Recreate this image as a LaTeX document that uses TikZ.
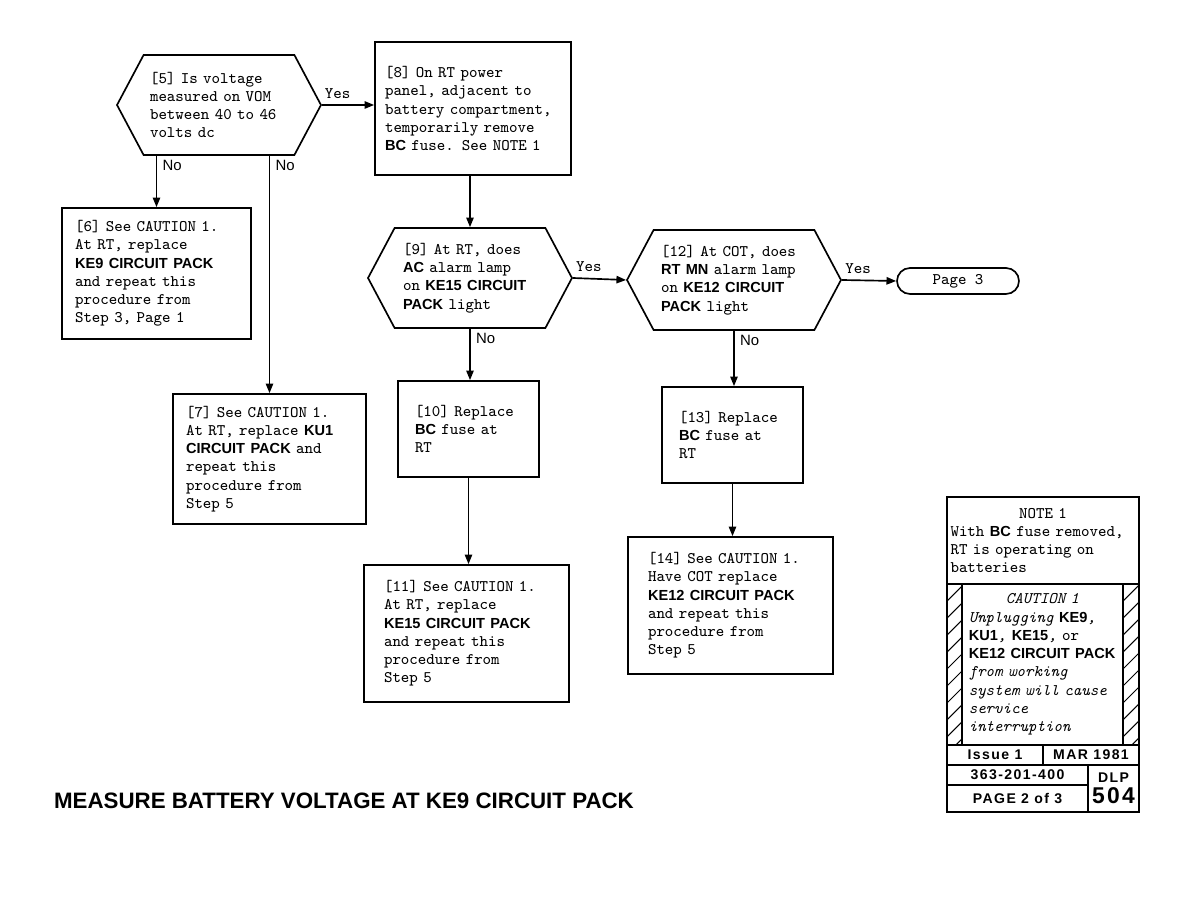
\documentclass[tikz,border=0pt]{standalone}
\usepackage{fontspec}
\newfontfamily\hv{Liberation Sans}
\newfontfamily\hvw{Liberation Sans}[LetterSpace=10]
\usetikzlibrary{arrows.meta,shapes.symbols,positioning}
\newcommand\bsf[1]{{\hv\upshape\bfseries\fontsize{8.3}{10.4}\selectfont #1}}

\begin{document}
\begin{tikzpicture}[x=0.02cm,y=-0.02cm,line width=0.95pt,
    font=\ttfamily\fontsize{9.2}{10.4}\selectfont,
    >={Triangle[length=5.5pt,width=4.2pt]},
    stepbox/.style={draw, align=left, inner sep=0pt},
    query/.style={draw, shape=signal, signal to=west and east, signal pointer angle=124, align=left, inner sep=0pt},
    nolbl/.style={anchor=north west, inner xsep=3pt, inner ysep=2pt, font=\hv\fontsize{8.5}{10}\selectfont},
    cell/.style={draw, inner sep=0pt, font=\hvw\bfseries\fontsize{8}{10}\selectfont},
    hatch/.style={draw, inner sep=0pt, path picture={
        \foreach \k in {1,...,10}
          \draw[line width=0.6pt] ([yshift=-\k*0.34cm]path picture bounding box.north west) -- ++(0.32cm,0.32cm);}}]
  \fill[white] (0,0) rectangle (1188,918);
  \useasboundingbox (0,0) rectangle (1188,918);
  % ---------- questions ----------
  \node[query, minimum width=4.08cm, minimum height=2cm, text width=2.76cm] (q5) at (219,105)
    {[5] Is voltage\\measured on VOM\\between 40 to 46\\volts dc};
  \node[query, minimum width=4.08cm, minimum height=2cm, text width=2.68cm] (q9) at (470,278)
    {[9] At RT, does\\\bsf{AC} alarm lamp\\on \bsf{KE15 CIRCUIT}\\\bsf{PACK} light};
  \node[query, minimum width=4.28cm, minimum height=2cm, text width=2.92cm] (q12) at (734,280)
    {[12] At COT, does\\\bsf{RT MN} alarm lamp\\on \bsf{KE12 CIRCUIT}\\\bsf{PACK} light};
  % ---------- steps ----------
  \node[stepbox, minimum width=3.92cm, minimum height=2.66cm, text width=3.52cm] (b8) at (473,108.5)
    {[8] On RT power\\panel, adjacent to\\battery compartment,\\temporarily remove\\\bsf{BC} fuse. See NOTE 1};
  \node[stepbox, minimum width=3.78cm, minimum height=2.62cm, text width=3.26cm] (b6) at (156.5,273.5)
    {[6] See CAUTION 1.\\At RT, replace\\\bsf{KE9 CIRCUIT PACK}\\and repeat this\\procedure from\\Step 3, Page 1};
  \node[stepbox, minimum width=3.86cm, minimum height=2.6cm, text width=3.34cm] (b7) at (269.5,459)
    {[7] See CAUTION 1.\\At RT, replace \bsf{KU1}\\\bsf{CIRCUIT PACK} and\\repeat this\\procedure from\\Step 5};
  \node[stepbox, minimum width=2.82cm, minimum height=1.92cm, text width=2.14cm] (b10) at (468.5,429)
    {[10] Replace\\\bsf{BC} fuse at\\RT};
  \node[stepbox, minimum width=2.82cm, minimum height=1.92cm, text width=2.14cm] (b13) at (732.5,435)
    {[13] Replace\\\bsf{BC} fuse at\\RT};
  \node[stepbox, minimum width=4.1cm, minimum height=2.74cm, text width=3.3cm] (b11) at (466.5,633.5)
    {[11] See CAUTION 1.\\At RT, replace\\\bsf{KE15 CIRCUIT PACK}\\and repeat this\\procedure from\\Step 5};
  \node[stepbox, minimum width=4.1cm, minimum height=2.74cm, text width=3.3cm] (b14) at (730.5,605.5)
    {[14] See CAUTION 1.\\Have COT replace\\\bsf{KE12 CIRCUIT PACK}\\and repeat this\\procedure from\\Step 5};
  \node[draw, rounded corners=0.26cm, minimum width=2.44cm, minimum height=0.52cm, inner sep=0pt] (p3) at (958,281) {Page 3};
  % ---------- connectors ----------
  \draw[->] (q5.east) -- node[above, pos=0.3]{Yes} (q5.east -| b8.west);
  \draw[->] (q5.south -| b6.north) -- node[nolbl, pos=0]{No} (b6.north);
  \draw[->] (q5.south -| b7.north) -- node[nolbl, pos=0]{No} (b7.north);
  \draw[->] (b8.south -| q9.north) -- (q9.north);
  \draw[->] (q9.east) -- node[above, pos=0.3]{Yes} (q12.west);
  \draw[->] (q12.east) -- node[above, pos=0.3]{Yes} (p3.west);
  \draw[->] (q9.south) -- node[nolbl, pos=0]{No} (q9.south |- b10.north);
  \draw[->] (b10.south) -- (b10.south |- b11.north);
  \draw[->] (q12.south) -- node[nolbl, pos=0]{No} (q12.south |- b13.north);
  \draw[->] (b13.south) -- (b13.south |- b14.north);
  % ---------- title ----------
  \node[font=\hv\bfseries\fontsize{12.7}{14}\selectfont] (title) at (344,801) {MEASURE BATTERY VOLTAGE AT KE9 CIRCUIT PACK};
  % ---------- note panel ----------
  \node[draw, minimum width=3.84cm, minimum height=1.74cm, text width=3.7cm, align=left, inner sep=0pt] (note) at (1043,540.5)
    {\hfill NOTE 1\hfill\null\\With \bsf{BC} fuse removed,\\RT is operating on\\batteries};
  \node[draw, minimum width=3.84cm, minimum height=3.22cm, inner sep=0pt] (caution) at (1043,664.5) {};
  \node[hatch, minimum width=0.3cm, minimum height=3.22cm] (hl) at (954.5,664.5) {};
  \node[hatch, minimum width=0.32cm, minimum height=3.22cm] (hr) at (1131,664.5) {};
  \node[text width=2.95cm, align=left, inner sep=0pt, font=\ttfamily\itshape\fontsize{9.2}{10.4}\selectfont] (ctext) at (1042.5,664.5)
    {\hfill CAUTION 1\hfill\null\\Unplugging \bsf{KE9},\\\bsf{KU1}, \bsf{KE15}, {\upshape or}\\\bsf{KE12 CIRCUIT PACK}\\from working\\system will cause\\service\\interruption};
  \node[cell, minimum width=1.92cm, minimum height=0.4cm] (iss) at (995,755) {Issue 1};
  \node[cell, minimum width=1.92cm, minimum height=0.4cm] (date) at (1091,755) {MAR 1981};
  \node[cell, minimum width=2.82cm, minimum height=0.4cm] (dno) at (1017.5,775) {363-201-400};
  \node[cell, minimum width=2.82cm, minimum height=0.54cm] (pg) at (1017.5,798.5) {PAGE 2 of 3};
  \node[cell, minimum width=1.02cm, minimum height=0.94cm, align=center] (dlp) at (1113.5,788.5)
    {DLP\\[2pt]\fontsize{13}{15}\selectfont 504};
\end{tikzpicture}
\end{document}
